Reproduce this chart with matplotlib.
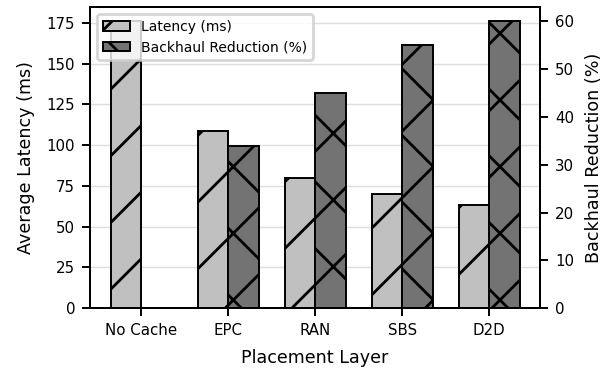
import numpy as np
import matplotlib
matplotlib.use('Agg')
import matplotlib.pyplot as plt

layers = ['No Cache', 'EPC', 'RAN', 'SBS', 'D2D']
latency = [176, 109, 80, 70, 63]
backhaul = [0, 34, 45, 55, 60]

# small figure at high dpi, so the hatch is as coarse as in the reference
plt.rcParams['font.size'] = 5
plt.rcParams['hatch.linewidth'] = 1.0
plt.rcParams['axes.linewidth'] = 0.7
for a in ['xtick', 'ytick']:
    plt.rcParams[a + '.major.size'] = 2.9
    plt.rcParams[a + '.major.width'] = 0.7
    plt.rcParams[a + '.major.pad'] = 2.5
    plt.rcParams[a + '.labelsize'] = 5.4

x = np.arange(len(layers))
w = 0.35

fig, ax = plt.subplots(figsize=(3.065, 1.845), dpi=200)
fig.subplots_adjust(left=0.147, right=0.881, bottom=0.165, top=0.981)

ax.grid(axis='y', color='#dddddd', linewidth=0.5)
ax.set_axisbelow(True)
b1 = ax.bar(x - w / 2, latency, w, color='#c0c0c0', edgecolor='black',
            linewidth=0.7, hatch='/', label='Latency (ms)')
ax.set_ylabel('Average Latency (ms)', fontsize=6.3)
ax.set_xlabel('Placement Layer', fontsize=6.3)
ax.set_xticks(x)
ax.set_xticklabels(layers)

ax2 = ax.twinx()
b2 = ax2.bar(x + w / 2, backhaul, w, color='#737373', edgecolor='black',
             linewidth=0.7, hatch='x', label='Backhaul Reduction (%)')
ax2.set_ylabel('Backhaul Reduction (%)', fontsize=6.3)

ax2.legend([b1, b2], ['Latency (ms)', 'Backhaul Reduction (%)'], loc='upper left')

fig.savefig('out.png')
